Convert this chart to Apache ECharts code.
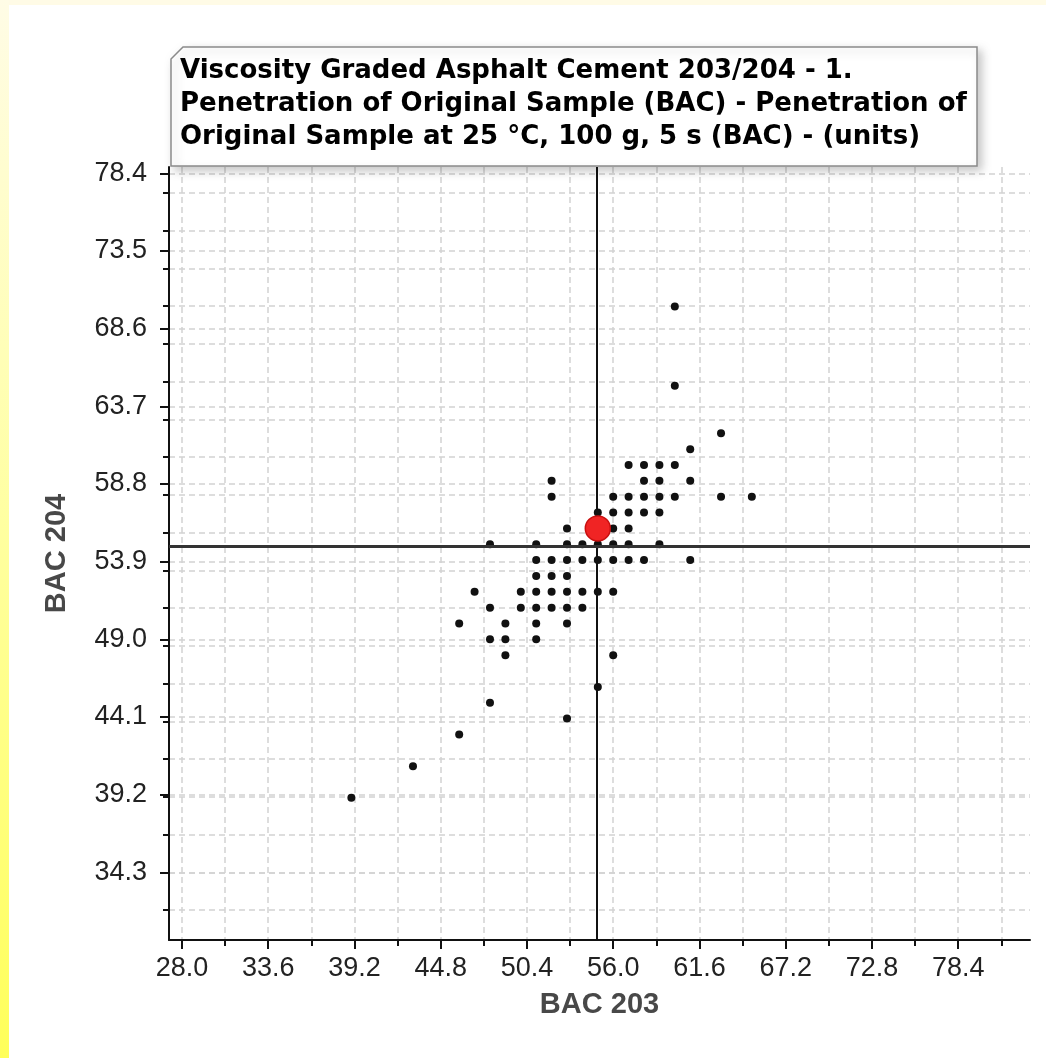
<!DOCTYPE html>
<html>
<head>
<meta charset="utf-8">
<script src="https://cdn.jsdelivr.net/npm/echarts@6/dist/echarts.min.js"></script>
<style>
  html, body { margin: 0; padding: 0; background: #fff; }
  #chart { width: 1046px; height: 1058px; }
</style>
</head>
<body>
<div id="chart"></div>
<script>
// BAC 203 / BAC 204 pairs, one entry per sample
const bac203 = [60, 60, 63, 61,
  57, 58, 59, 60,
  52, 58, 59, 61,
  52, 56, 57, 58, 59, 60, 63, 65,
  55, 56, 57, 58, 59,
  53, 56, 57,
  48, 51, 53, 54, 55, 56, 57, 59,
  51, 52, 53, 54, 55, 56, 57, 58, 61,
  51, 52, 53,
  47, 50, 51, 52, 53, 54, 55, 56,
  48, 50, 51, 52, 53, 54,
  46, 49, 51, 53,
  48, 49, 51,
  49, 56,
  55, 48, 53, 46, 43, 39];
const bac204 = [70, 65, 62, 61,
  60, 60, 60, 60,
  59, 59, 59, 59,
  58, 58, 58, 58, 58, 58, 58, 58,
  57, 57, 57, 57, 57,
  56, 56, 56,
  55, 55, 55, 55, 55, 55, 55, 55,
  54, 54, 54, 54, 54, 54, 54, 54, 54,
  53, 53, 53,
  52, 52, 52, 52, 52, 52, 52, 52,
  51, 51, 51, 51, 51, 51,
  50, 50, 50, 50,
  49, 49, 49,
  48, 48,
  46, 45, 44, 43, 41, 39];

// highlighted sample and the cross lines
const selected = [55, 56];
const crossX = 54.95;
const crossY = 54.85;

// tick values
const xMajorTicks = [28.0, 33.6, 39.2, 44.8, 50.4, 56.0, 61.6, 67.2, 72.8, 78.4];
const xMinorTicks = [30.8, 36.4, 42.0, 47.6, 53.2, 58.8, 64.4, 70.0, 75.6, 81.2];
const yMajorTicks = [34.3, 39.2, 44.1, 49.0, 53.9, 58.8, 63.7, 68.6, 73.5, 78.4];
const yMinorTicks = [77.18, 74.79, 72.41, 70.03, 67.65, 65.26, 62.88, 60.50, 58.12, 55.73,
  53.35, 50.97, 48.59, 46.21, 43.82, 41.44, 39.06, 36.68, 34.29, 31.91];

const titleLines = [
  'Viscosity Graded Asphalt Cement 203/204 - 1.',
  'Penetration of Original Sample (BAC) - Penetration of',
  'Original Sample at 25 °C, 100 g, 5 s (BAC) - (units)'
];

const xRange = [27.16, 83.06];
const yRange = [30.03, 78.8];

const chart = echarts.init(document.getElementById('chart'));

const gridDash = { color: '#d2d2d2', width: 1.5, type: [6, 4] };
const labelFont = { fontFamily: 'Liberation Sans', fontSize: 27, color: '#222' };
const nameFont = { fontFamily: 'Liberation Sans', fontSize: 29, fontWeight: 'bold', color: '#484848' };

const option = {
  animation: false,
  backgroundColor: '#fff',
  grid: { left: 169, top: 167, right: 16, bottom: 118, outerBoundsMode: 'none' },
  xAxis: [
    {
      type: 'value', position: 'bottom', min: xRange[0], max: xRange[1],
      name: 'BAC 203', nameLocation: 'middle', nameGap: 50, nameTextStyle: nameFont,
      axisLine: { lineStyle: { color: '#111', width: 2 } },
      axisTick: { customValues: xMajorTicks, length: 9, lineStyle: { color: '#111', width: 2 } },
      axisLabel: Object.assign({ customValues: xMajorTicks, margin: 15,
        formatter: v => v.toFixed(1) }, labelFont),
      splitLine: { show: true, lineStyle: gridDash }
    },
    {
      type: 'value', position: 'bottom', min: xRange[0], max: xRange[1],
      axisLine: { show: false },
      axisTick: { customValues: xMinorTicks, length: 6, lineStyle: { color: '#111', width: 2 } },
      axisLabel: { show: false },
      splitLine: { show: true, lineStyle: gridDash }
    }
  ],
  yAxis: [
    {
      type: 'value', position: 'left', min: yRange[0], max: yRange[1],
      name: 'BAC 204', nameLocation: 'middle', nameGap: 98, nameTextStyle: nameFont,
      axisLine: { lineStyle: { color: '#111', width: 2 } },
      axisTick: { customValues: yMajorTicks, length: 9, lineStyle: { color: '#111', width: 2 } },
      axisLabel: Object.assign({ customValues: yMajorTicks, margin: 22,
        formatter: v => v.toFixed(1) }, labelFont),
      splitLine: { show: true, lineStyle: gridDash }
    },
    {
      type: 'value', position: 'left', min: yRange[0], max: yRange[1],
      axisLine: { show: false },
      axisTick: { customValues: yMinorTicks, length: 6, lineStyle: { color: '#111', width: 2 } },
      axisLabel: { show: false },
      splitLine: { show: true, lineStyle: gridDash }
    }
  ],
  series: [
    {
      type: 'scatter',
      symbolSize: 8,
      itemStyle: { color: '#111', opacity: 1 },
      data: bac203.map((x, i) => [x, bac204[i]]),
      markLine: {
        silent: true,
        symbol: 'none',
        label: { show: false },
        data: [
          { xAxis: crossX, lineStyle: { color: '#111', width: 2, type: 'solid' } },
          { yAxis: crossY, lineStyle: { color: '#333', width: 3, type: 'solid' } }
        ]
      },
      z: 3
    },
    {
      type: 'scatter',
      symbolSize: 25,
      itemStyle: { color: '#f02424', borderColor: '#c81010', borderWidth: 1.5, opacity: 1 },
      data: [selected],
      z: 5
    }
  ],
  graphic: [
    // yellow page frame
    { type: 'rect', left: 0, top: 0, z: 0, shape: { width: 1046, height: 5 },
      style: { fill: '#fffbe6' } },
    { type: 'rect', left: 0, top: 0, z: 0, shape: { width: 9, height: 1058 },
      style: { fill: new echarts.graphic.LinearGradient(0, 0, 0, 1, [
        { offset: 0, color: '#fffce6' }, { offset: 0.5, color: '#ffffa0' }, { offset: 1, color: '#ffff5a' }]) } },
    // title box with the clipped corner
    {
      type: 'polygon', z: 10,
      shape: { points: [[183, 47], [977, 47], [977, 166], [171, 166], [171, 59]] },
      style: { fill: '#fff', stroke: '#8a8a8a', lineWidth: 1.5,
        shadowBlur: 10, shadowOffsetX: 4, shadowOffsetY: 4, shadowColor: 'rgba(0,0,0,0.22)' }
    },
    {
      type: 'text', z: 11, left: 180, top: 55,
      style: {
        text: titleLines.join('\n'),
        fill: '#000',
        font: 'bold 26px "DejaVu Sans"',
        lineHeight: 33
      }
    }
  ]
};

chart.setOption(option);
</script>
</body>
</html>
